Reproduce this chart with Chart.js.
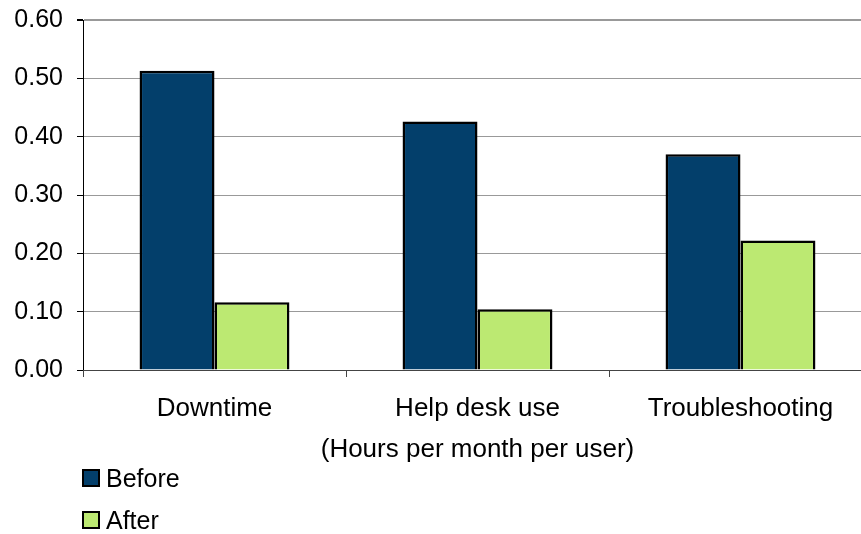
<!DOCTYPE html>
<html>
<head>
<meta charset="utf-8">
<script src="https://cdn.jsdelivr.net/npm/chart.js@4/dist/chart.umd.min.js"></script>
<style>
  html, body { margin: 0; padding: 0; background: #fff; }
  #wrap { position: relative; width: 861px; height: 534px; overflow: hidden; }
  #legend { position: absolute; left: 82px; top: 464px; font: 25px 'Liberation Sans', Arial, sans-serif; color: #000; }
  .item { display: flex; align-items: center; height: 28px; margin-bottom: 14px; }
  .box { width: 14px; height: 14px; border: 2px solid #000; margin-right: 6px; }
</style>
</head>
<body>
<div id="wrap">
  <canvas id="chart" width="880" height="534"></canvas>
  <div id="legend"></div>
</div>
<script>
// chart data
const categories = ['Downtime', 'Help desk use', 'Troubleshooting'];
const before = [0.513, 0.426, 0.370];
const after = [0.116, 0.104, 0.222];
const seriesNames = ['Before', 'After'];
const seriesColors = ['#033f6b', '#bce972'];

const font = { family: "'Liberation Sans', Arial, sans-serif", size: 25 };
const xFont = { family: "'Liberation Sans', Arial, sans-serif", size: 26 };

const ctx = document.getElementById('chart').getContext('2d');
const chart = new Chart(ctx, {
  type: 'bar',
  data: {
    labels: categories,
    datasets: [
      { label: seriesNames[0], data: before, backgroundColor: seriesColors[0], borderColor: '#000', borderWidth: 2.5 },
      { label: seriesNames[1], data: after, backgroundColor: seriesColors[1], borderColor: '#000', borderWidth: 2.5 },
    ],
  },
  options: {
    responsive: false,
    animation: false,
    categoryPercentage: 0.57,
    barPercentage: 1,
    layout: { padding: { top: 20, bottom: 69, left: 0, right: 8 } },
    plugins: { legend: { display: false }, tooltip: { enabled: false } },
    scales: {
      y: {
        min: 0,
        max: 0.6,
        ticks: { stepSize: 0.1, color: '#000', font: font, padding: 14, callback: v => v.toFixed(2) },
        grid: { color: '#999', tickColor: '#000', tickLength: 6, lineWidth: c => (c.tick && c.tick.value >= 0.6 ? 2 : 1) },
        border: { color: '#000', width: 1 },
        afterFit: s => { s.width = 83; s.paddingTop = 0; s.paddingBottom = 0; },
      },
      x: {
        ticks: { color: '#000', font: xFont, padding: 16 },
        grid: { offset: true, drawOnChartArea: false, tickColor: '#444', tickLength: 7 },
        border: { color: '#444', width: 1 },
        title: { display: true, text: '(Hours per month per user)', color: '#000', font: xFont, padding: { top: 3, bottom: 0 } },
        afterFit: s => { s.height = 95; },
      },
    },
  },
});

// legend stacked under the chart, like the original
const legend = document.getElementById('legend');
seriesNames.forEach((name, i) => {
  const item = document.createElement('div');
  item.className = 'item';
  item.innerHTML = '<span class="box" style="background:' + seriesColors[i] + '"></span><span>' + name + '</span>';
  legend.appendChild(item);
});
</script>
</body>
</html>
